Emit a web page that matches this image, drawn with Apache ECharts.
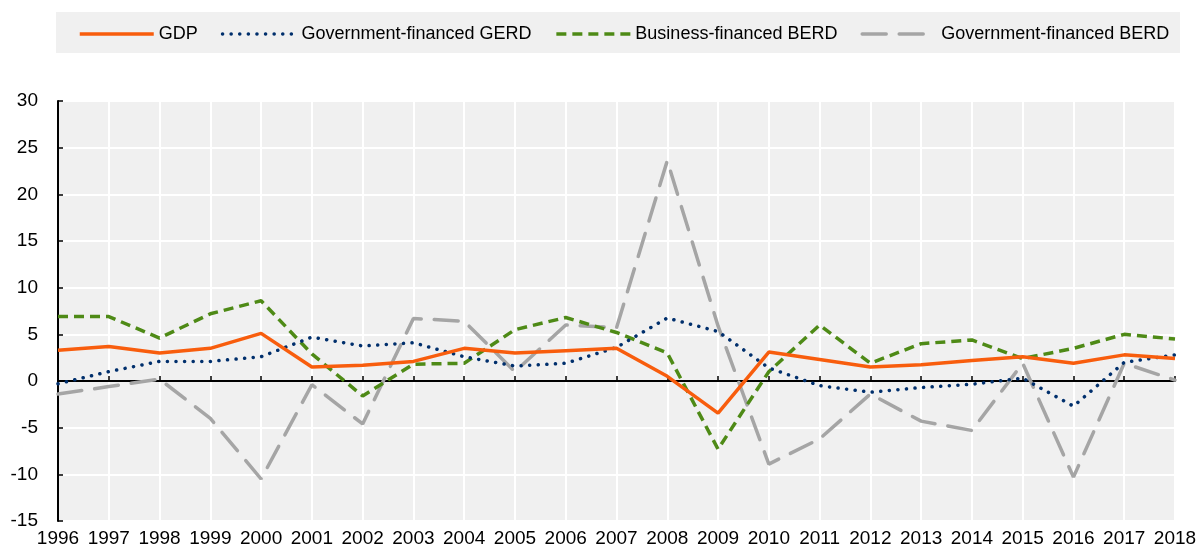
<!DOCTYPE html>
<html>
<head>
<meta charset="utf-8">
<script src="https://cdn.jsdelivr.net/npm/echarts@6/dist/echarts.min.js"></script>
<style>
  html, body { margin: 0; padding: 0; background: #fff; }
  #chart { width: 1201px; height: 552px; }
</style>
</head>
<body>
<div id="chart"></div>
<script>
// years on the x axis
const years = ['1996', '1997', '1998', '1999', '2000', '2001', '2002', '2003', '2004', '2005', '2006', '2007',
  '2008', '2009', '2010', '2011', '2012', '2013', '2014', '2015', '2016', '2017', '2018']

// annual growth rates, %
const gdp = [3.3, 3.7, 3.0, 3.5, 5.1, 1.5, 1.7, 2.1, 3.5, 3.0, 3.25, 3.5, 0.5, -3.45, 3.1, 2.3, 1.5, 1.75, 2.2, 2.6, 1.9, 2.8, 2.4]
const govGerd = [-0.3, 1.0, 2.1, 2.1, 2.6, 4.7, 3.75, 4.1, 2.6, 1.6, 1.9, 3.6, 6.75, 5.3, 1.4, -0.5, -1.2, -0.7, -0.35, 0.3, -2.7, 2.0, 2.8]
const busBerd = [6.9, 6.9, 4.6, 7.2, 8.6, 2.9, -1.6, 1.8, 1.9, 5.5, 6.8, 5.2, 3.0, -7.3, 1.0, 6.0, 1.9, 4.0, 4.4, 2.4, 3.5, 5.0, 4.5]
const govBerd = [-1.4, -0.6, 0.2, -4.0, -10.5, -0.4, -4.6, 6.7, 6.4, 1.0, 6.0, 5.7, 23.6, 5.9, -8.9, -6.2, -1.4, -4.3, -5.3, 1.9, -10.3, 1.9, 0.1]

const FONT = '"Liberation Sans", Arial, sans-serif'

const chart = echarts.init(document.getElementById('chart'))

const option = {
  animation: false,
  textStyle: { fontFamily: FONT },
  graphic: [{
    type: 'rect',
    left: 56,
    top: 12,
    shape: { width: 1124, height: 41 },
    style: { fill: '#f0f0f0' },
    z: -1
  }],
  legend: {
    left: 78,
    top: 25,
    itemWidth: 74,
    itemHeight: 14,
    itemGap: 23,
    padding: 0,
    itemStyle: { opacity: 0 },
    lineStyle: { width: 3.5 },
    textStyle: { fontFamily: FONT, fontSize: 18, color: '#000' },
    data: ['GDP', 'Government-financed GERD', 'Business-financed BERD', 'Government-financed BERD']
  },
  grid: {
    left: 58,
    right: 26,
    top: 101,
    height: 420,
    show: true,
    backgroundColor: '#f0f0f0',
    borderWidth: 0
  },
  xAxis: [
    {
      type: 'category',
      data: years,
      boundaryGap: false,
      axisLine: { show: false, onZero: false },
      axisTick: { show: false },
      axisLabel: { color: '#000', fontSize: 19, fontFamily: FONT, margin: 8, interval: 0 },
      splitLine: { show: true, interval: 0, lineStyle: { color: '#fff', width: 2 } }
    },
    {
      type: 'category',
      data: years,
      boundaryGap: false,
      position: 'bottom',
      axisLine: { show: true, onZero: true, lineStyle: { color: '#000', width: 2 } },
      axisTick: { show: true, inside: true, length: 5, interval: 0, lineStyle: { color: '#000', width: 1.5 } },
      axisLabel: { show: false },
      splitLine: { show: false }
    }
  ],
  yAxis: {
    type: 'value',
    min: -15,
    max: 30,
    interval: 5,
    axisLine: { show: true, lineStyle: { color: '#000', width: 2 } },
    axisTick: { show: true, inside: true, length: 5, lineStyle: { color: '#000', width: 1.5 } },
    axisLabel: { color: '#000', fontSize: 19, fontFamily: FONT, margin: 20 },
    splitLine: { show: true, lineStyle: { color: '#fff', width: 2 } }
  },
  series: [
    {
      name: 'GDP',
      type: 'line',
      data: gdp,
      symbol: 'none',
      z: 5,
      lineStyle: { color: '#f85d0d', width: 3.5 },
      itemStyle: { color: '#f85d0d' }
    },
    {
      name: 'Government-financed GERD',
      type: 'line',
      data: govGerd,
      symbol: 'none',
      z: 4,
      lineStyle: { color: '#002f6c', width: 3.5, type: [0.1, 8.5], cap: 'round' },
      itemStyle: { color: '#002f6c' }
    },
    {
      name: 'Business-financed BERD',
      type: 'line',
      data: busBerd,
      symbol: 'none',
      z: 3,
      lineStyle: { color: '#4e8a16', width: 3.5, type: [10, 6] },
      itemStyle: { color: '#4e8a16' }
    },
    {
      name: 'Government-financed BERD',
      type: 'line',
      data: govBerd,
      symbol: 'none',
      z: 2,
      lineStyle: { color: '#a5a5a5', width: 3.5, type: [24, 13], cap: 'round' },
      itemStyle: { color: '#a5a5a5' }
    }
  ]
}

chart.setOption(option)
</script>
</body>
</html>
